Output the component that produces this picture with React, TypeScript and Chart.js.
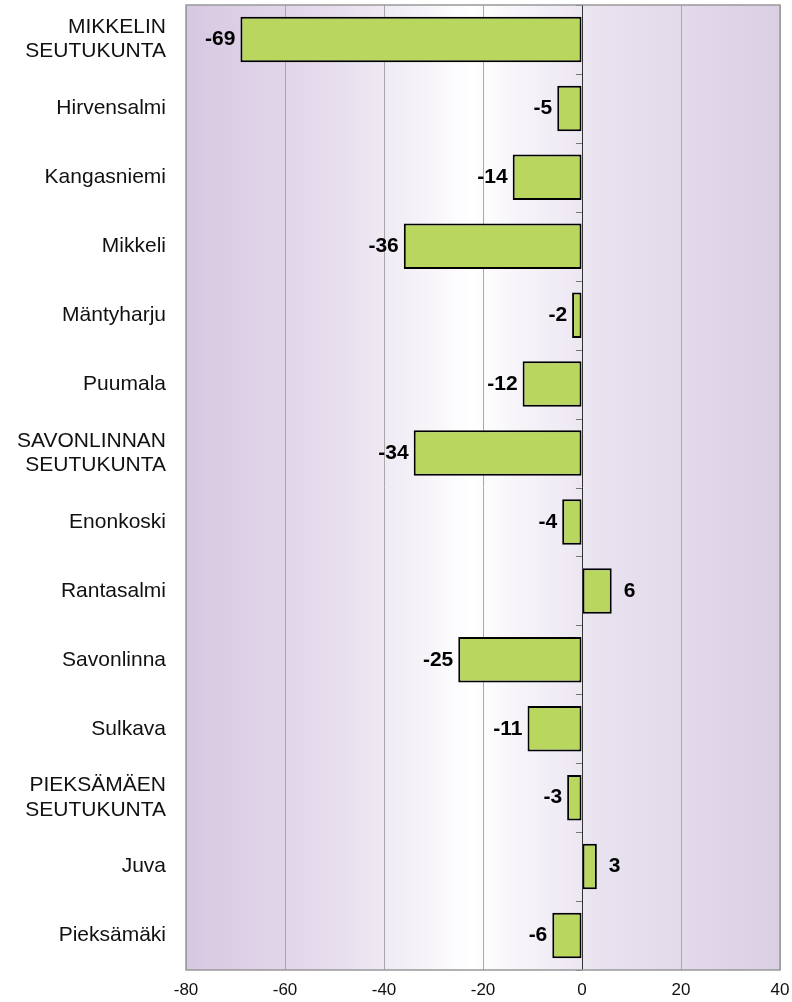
import React, { useEffect, useRef } from "react";
import { Chart, registerables } from "chart.js";

Chart.register(...registerables);

const categories: (string | string[])[] = [
  ["MIKKELIN", "SEUTUKUNTA"],
  "Hirvensalmi",
  "Kangasniemi",
  "Mikkeli",
  "Mäntyharju",
  "Puumala",
  ["SAVONLINNAN", "SEUTUKUNTA"],
  "Enonkoski",
  "Rantasalmi",
  "Savonlinna",
  "Sulkava",
  ["PIEKSÄMÄEN", "SEUTUKUNTA"],
  "Juva",
  "Pieksämäki",
];
const values: number[] = [-69, -5, -14, -36, -2, -12, -34, -4, 6, -25, -11, -3, 3, -6];
const xMin = -80;
const xMax = 40;
const xStep = 20;

const FONT = "'Liberation Sans', Arial, sans-serif";

const bgPlugin = {
  id: "bgGradient",
  beforeDraw(chart: any) {
    const { ctx, chartArea } = chart;
    if (!chartArea) return;
    const g = ctx.createLinearGradient(chartArea.left, 0, chartArea.right, 0);
    g.addColorStop(0, "#d7c8e1");
    g.addColorStop(0.25, "#e6dded");
    g.addColorStop(0.48, "#ffffff");
    g.addColorStop(0.7, "#e9e2ef");
    g.addColorStop(1, "#dacfe4");
    ctx.save();
    ctx.fillStyle = g;
    ctx.fillRect(chartArea.left, chartArea.top, chartArea.right - chartArea.left, chartArea.bottom - chartArea.top);
    ctx.restore();
  },
  afterDraw(chart: any) {
    const { ctx, chartArea, scales } = chart;
    const x0 = scales.x.getPixelForValue(0);
    const y = scales.y;
    ctx.save();
    ctx.strokeStyle = "#333333";
    ctx.lineWidth = 1;
    ctx.beginPath();
    ctx.moveTo(Math.round(x0) + 0.5, chartArea.top);
    ctx.lineTo(Math.round(x0) + 0.5, chartArea.bottom);
    ctx.stroke();
    ctx.strokeStyle = "#777777";
    for (let i = 0; i <= categories.length; i++) {
      const yy = Math.round(y.getPixelForValue(i - 0.5)) + 0.5;
      ctx.beginPath();
      ctx.moveTo(x0 - 6, yy);
      ctx.lineTo(x0, yy);
      ctx.stroke();
    }
    ctx.strokeStyle = "#999999";
    ctx.lineWidth = 1.5;
    ctx.strokeRect(chartArea.left, chartArea.top, chartArea.right - chartArea.left, chartArea.bottom - chartArea.top);
    ctx.fillStyle = "#000000";
    ctx.font = "bold 21px " + FONT;
    ctx.textBaseline = "middle";
    const meta = chart.getDatasetMeta(0);
    meta.data.forEach((bar: any, i: number) => {
      const v = values[i];
      if (v < 0) {
        ctx.textAlign = "right";
        ctx.fillText(String(v), bar.x - 5, bar.y);
      } else {
        ctx.textAlign = "left";
        ctx.fillText(String(v), bar.x + 12, bar.y);
      }
    });
    ctx.restore();
  },
};

export default function App() {
  const ref = useRef<HTMLCanvasElement | null>(null);
  useEffect(() => {
    if (!ref.current) return;
    const chart = new Chart(ref.current, {
      type: "bar",
      data: {
        labels: categories,
        datasets: [
          {
            data: values,
            backgroundColor: "#b9d65f",
            borderColor: "#000000",
            borderWidth: 2,
            borderSkipped: false,
            barPercentage: 0.66,
            categoryPercentage: 1,
          },
        ],
      },
      options: {
        indexAxis: "y",
        animation: false,
        responsive: false,
        maintainAspectRatio: false,
        layout: { autoPadding: false, padding: { top: 5, right: 12, bottom: 0, left: 0 } },
        plugins: { legend: { display: false }, tooltip: { enabled: false } },
        scales: {
          x: {
            min: xMin,
            max: xMax,
            ticks: {
              stepSize: xStep,
              color: "#111111",
              font: { size: 17, family: FONT },
              padding: 10,
              maxRotation: 0,
            },
            grid: {
              color: (c: any) => (c.tick && c.tick.value === 0 ? "rgba(0,0,0,0)" : "#a8a8a8"),
              drawTicks: false,
              lineWidth: 1,
            },
            border: { display: false },
            afterFit(scale: any) {
              scale.height = 32;
              scale.paddingLeft = 0;
              scale.paddingRight = 0;
              scale.paddingTop = 0;
              scale.paddingBottom = 0;
            },
          },
          y: {
            ticks: {
              color: "#111111",
              font: { size: 21, family: FONT, lineHeight: 1.15 },
              padding: 20,
              autoSkip: false,
            },
            grid: { display: false, drawTicks: false },
            border: { display: false },
            afterFit(scale: any) {
              scale.width = 186;
              scale.paddingLeft = 0;
              scale.paddingRight = 0;
              scale.paddingTop = 0;
              scale.paddingBottom = 0;
            },
          },
        },
      },
      plugins: [bgPlugin],
    });
    return () => chart.destroy();
  }, []);
  return (
    <div style={{ position: "absolute", left: 0, top: 0, width: 792, height: 1002, background: "#ffffff" }}>
      <canvas ref={ref} width={792} height={1002} style={{ display: "block" }} />
    </div>
  );
}
